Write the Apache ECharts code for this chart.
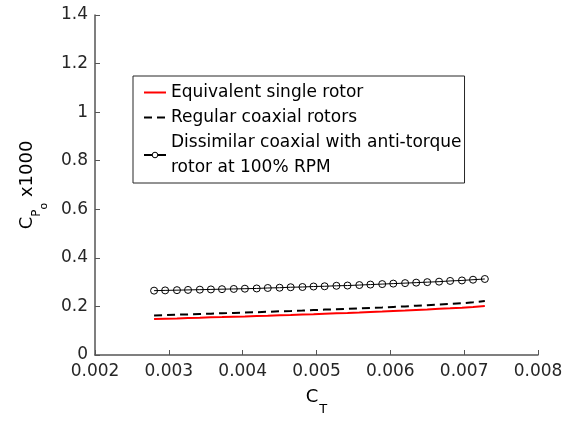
<!DOCTYPE html>
<html>
<head>
<meta charset="utf-8">
<script src="https://cdn.jsdelivr.net/npm/echarts@6/dist/echarts.min.js"></script>
<style>
html,body{margin:0;padding:0;background:#fff;}
#chart{width:571px;height:421px;}
</style>
</head>
<body>
<div id="chart"></div>
<script>
// Thrust coefficient C_T (x values shared by all series)
var ctValues = [0.00280, 0.00295, 0.00311, 0.00326, 0.00342, 0.00357, 0.00372, 0.00388, 0.00403, 0.00419,
                0.00434, 0.00450, 0.00465, 0.00481, 0.00496, 0.00511, 0.00527, 0.00542, 0.00558, 0.00573,
                0.00589, 0.00604, 0.00620, 0.00635, 0.00650, 0.00666, 0.00681, 0.00697, 0.00712, 0.00728];

var seriesNames = ['Equivalent single rotor', 'Regular coaxial rotors',
                   'Dissimilar coaxial with anti-torque\nrotor at 100% RPM'];

// C_Po x1000
var singleRotor = [0.148, 0.149, 0.150, 0.152, 0.153, 0.155, 0.156, 0.158, 0.159, 0.161,
                   0.162, 0.164, 0.165, 0.167, 0.168, 0.170, 0.172, 0.173, 0.175, 0.177,
                   0.179, 0.181, 0.183, 0.185, 0.187, 0.190, 0.192, 0.195, 0.198, 0.202];
var regularCoaxial = [0.163, 0.164, 0.166, 0.167, 0.169, 0.170, 0.172, 0.173, 0.175, 0.176,
                      0.178, 0.180, 0.181, 0.183, 0.185, 0.187, 0.188, 0.190, 0.192, 0.194,
                      0.196, 0.198, 0.200, 0.203, 0.205, 0.208, 0.210, 0.213, 0.217, 0.222];
var dissimilarCoaxial = [0.265, 0.266, 0.267, 0.268, 0.269, 0.270, 0.271, 0.272, 0.273, 0.274,
                         0.276, 0.277, 0.279, 0.280, 0.282, 0.283, 0.285, 0.286, 0.288, 0.290,
                         0.292, 0.294, 0.296, 0.298, 0.300, 0.302, 0.305, 0.307, 0.310, 0.313];

var xTicks = [0.002, 0.003, 0.004, 0.005, 0.006, 0.007, 0.008];
var yTicks = [0, 0.2, 0.4, 0.6, 0.8, 1, 1.2, 1.4];

function pairs(ys) { return ctValues.map(function (x, i) { return [x, ys[i]]; }); }

var FONT = 'DejaVu Sans';
var AX = '#555555';
var LBL = '#262626';

var chart = echarts.init(document.getElementById('chart'), null, {renderer: 'canvas'});
chart.setOption({
  animation: false,
  backgroundColor: '#fff',
  textStyle: {fontFamily: FONT},
  grid: {left: 95, right: 33, top: 15, bottom: 66, containLabel: false},
  legend: {
    orient: 'vertical',
    left: 133, top: 76,
    padding: [4, 3, 3, 10],
    itemGap: 0,
    itemWidth: 22,
    itemHeight: 7,
    borderColor: '#262626', borderWidth: 1, borderRadius: 0,
    backgroundColor: '#fff',
    textStyle: {fontFamily: FONT, fontSize: 17, lineHeight: 25, color: '#000'},
    data: [
      {name: seriesNames[0], itemStyle: {opacity: 0}},
      {name: seriesNames[1], itemStyle: {opacity: 0}},
      {name: seriesNames[2], itemStyle: {color: '#fff', borderColor: '#000', borderWidth: 1}}
    ]
  },
  xAxis: {
    type: 'value',
    min: xTicks[0], max: xTicks[xTicks.length - 1], interval: 0.001,
    axisLine: {lineStyle: {color: AX, width: 1.5}},
    axisTick: {inside: true, length: 5, lineStyle: {color: AX, width: 1}},
    splitLine: {show: false},
    axisLabel: {color: LBL, fontFamily: FONT, fontSize: 17, margin: 8,
      formatter: function (v) { return v.toFixed(3); }},
    name: '{c|C}{s|T}',
    nameLocation: 'middle',
    nameGap: 33,
    nameTextStyle: {
      rich: {
        c: {fontFamily: FONT, fontSize: 18, lineHeight: 18, color: '#000', verticalAlign: 'top'},
        s: {fontFamily: FONT, fontSize: 13, lineHeight: 13, color: '#000', verticalAlign: 'top', padding: [15, 0, 0, 1]}
      }
    }
  },
  yAxis: {
    type: 'value',
    min: yTicks[0], max: yTicks[yTicks.length - 1], interval: 0.2,
    axisLine: {show: true, lineStyle: {color: AX, width: 1.5}},
    axisTick: {show: true, inside: true, length: 5, lineStyle: {color: AX, width: 1}},
    splitLine: {show: false},
    axisLabel: {color: LBL, fontFamily: FONT, fontSize: 17, margin: 7},
    name: '{c|C}{p|P}{o|o}{c| x1000}',
    nameLocation: 'middle',
    nameRotate: 90,
    nameGap: 52,
    nameTextStyle: {
      rich: {
        c: {fontFamily: FONT, fontSize: 18, lineHeight: 18, color: '#000', verticalAlign: 'top'},
        p: {fontFamily: FONT, fontSize: 12, lineHeight: 12, color: '#000', verticalAlign: 'top', padding: [13, 0, 0, 0]},
        o: {fontFamily: FONT, fontSize: 11, lineHeight: 11, color: '#000', verticalAlign: 'top', padding: [21, 0, 0, 0]}
      }
    }
  },
  series: [
    {
      name: seriesNames[0], type: 'line', data: pairs(singleRotor),
      symbol: 'none', smooth: false,
      lineStyle: {color: '#ff0000', width: 2},
      itemStyle: {color: '#ff0000'}
    },
    {
      name: seriesNames[1], type: 'line', data: pairs(regularCoaxial),
      symbol: 'none',
      lineStyle: {color: '#000', width: 2, type: [8, 5]},
      itemStyle: {color: '#000'}
    },
    {
      name: seriesNames[2], type: 'line', data: pairs(dissimilarCoaxial),
      symbol: 'circle', symbolSize: 7, showAllSymbol: true,
      lineStyle: {color: '#000', width: 1},
      itemStyle: {color: 'rgba(255,255,255,0)', borderColor: '#000', borderWidth: 1}
    }
  ]
});
</script>
</body>
</html>
